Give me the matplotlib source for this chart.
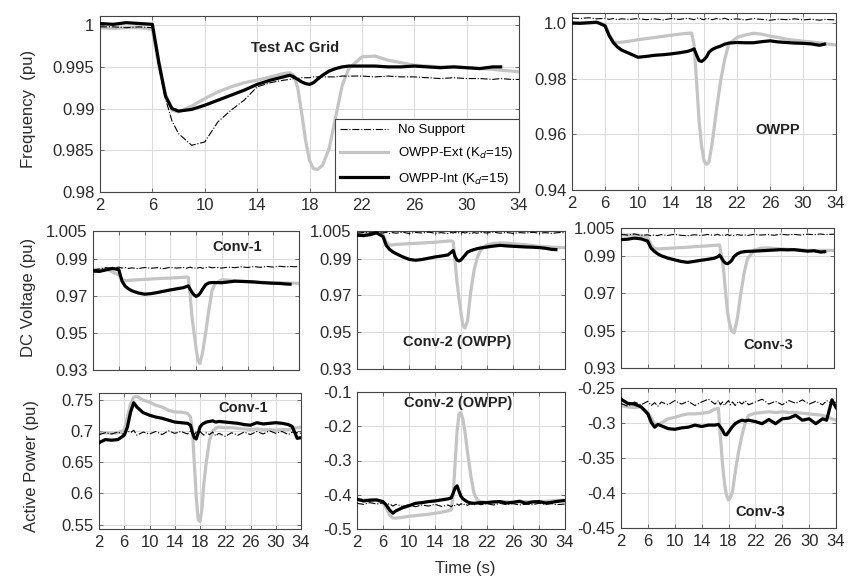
import numpy as np
import matplotlib
matplotlib.use("Agg")
import matplotlib.pyplot as plt

plt.rcParams['font.family'] = ['Liberation Sans', 'DejaVu Sans']

# sample times (s)
t = [2, 3, 4, 5, 6, 6.5, 7, 7.5, 8, 9, 10, 11, 12, 13, 14, 15, 16,
     16.5, 16.8, 17.1, 17.4, 17.7, 18, 18.3, 18.6, 19, 19.5, 20, 20.5, 21,
     22, 23, 24, 25, 26, 27, 28, 29, 30, 31, 32, 32.6, 33.4, 34]
nan = np.nan

# ---- frequency, test AC grid ----
f_grid_nosup = [0.9998, 0.9998, 0.9997, 0.9998, 0.9997, 0.9950, 0.9912, 0.9885, 0.9870, 0.9856, 0.9860, 0.9884, 0.9898, 0.9910, 0.9926, 0.9931, 0.9934,
                0.9935, 0.9936, 0.9936, 0.9937, 0.9937, 0.9937, 0.9938, 0.9938, 0.9938, 0.9938, 0.9938, 0.9939, 0.9939,
                0.9939, 0.9938, 0.9939, 0.9938, 0.9938, 0.9937, 0.9936, 0.9937, 0.9936, 0.9936, 0.9935, 0.9936, 0.9935, 0.9935]
f_grid_ext = [0.9997, 0.9996, 0.9997, 0.9997, 0.9995, 0.9950, 0.9918, 0.9898, 0.9896, 0.9903, 0.9912, 0.9920, 0.9926, 0.9931, 0.9934, 0.9938, 0.9942,
              0.9943, 0.9940, 0.9925, 0.9895, 0.9862, 0.9838, 0.9828, 0.9827, 0.9832, 0.9852, 0.9890, 0.9928, 0.9948,
              0.9962, 0.9963, 0.9958, 0.9955, 0.9952, 0.9951, 0.9950, 0.9950, 0.9949, 0.9948, 0.9947, 0.9946, 0.9945, 0.9944]
f_grid_int = [1.0002, 1.0001, 1.0003, 1.0002, 1.0001, 0.9955, 0.9915, 0.9900, 0.9897, 0.9899, 0.9904, 0.9910, 0.9916, 0.9922, 0.9929, 0.9934, 0.9938,
              0.9940, 0.9938, 0.9935, 0.9932, 0.9930, 0.9929, 0.9931, 0.9935, 0.9940, 0.9945, 0.9948, 0.9950, 0.9951,
              0.9951, 0.9951, 0.9950, 0.9950, 0.9951, 0.9950, 0.9949, 0.9950, 0.9949, 0.9948, 0.9950, 0.9950, nan, nan]

# ---- frequency, OWPP ----
f_owpp_nosup = [1.0018, 1.0016, 1.0019, 1.0015, 1.0017, 1.0013, 1.0016, 1.0012, 1.0015, 1.0013, 1.0016, 1.0012, 1.0015, 1.0011, 1.0016, 1.0013, 1.0017,
                1.0014, 1.0012, 1.0016, 1.0019, 1.0014, 1.0012, 1.0017, 1.0015, 1.0012, 1.0016, 1.0013, 1.0017, 1.0012,
                1.0015, 1.0011, 1.0016, 1.0013, 1.0010, 1.0014, 1.0012, 1.0015, 1.0011, 1.0014, 1.0010, 1.0013, 1.0012, 1.0011]
f_owpp_ext = [1.0000, 0.9999, 1.0000, 1.0001, 0.9995, 0.9960, 0.9933, 0.9930, 0.9931, 0.9935, 0.9940, 0.9944, 0.9948, 0.9952, 0.9956, 0.9960, 0.9963,
              0.9964, 0.9920, 0.9790, 0.9650, 0.9560, 0.9505, 0.9492, 0.9500, 0.9570, 0.9685, 0.9790, 0.9868, 0.9925,
              0.9948, 0.9957, 0.9963, 0.9960, 0.9953, 0.9948, 0.9942, 0.9938, 0.9935, 0.9932, 0.9929, 0.9926, 0.9923, 0.9921]
f_owpp_int = [1.0000, 0.9999, 1.0001, 1.0003, 0.9990, 0.9955, 0.9930, 0.9914, 0.9903, 0.9890, 0.9877, 0.9880, 0.9884, 0.9886, 0.9889, 0.9893, 0.9898,
              0.9903, 0.9907, 0.9885, 0.9865, 0.9862, 0.9868, 0.9878, 0.9895, 0.9905, 0.9912, 0.9917, 0.9924, 0.9928,
              0.9930, 0.9929, 0.9929, 0.9933, 0.9936, 0.9932, 0.9930, 0.9928, 0.9927, 0.9925, 0.9920, 0.9924, nan, nan]

# ---- DC voltage ----
v1_nosup = [0.9840, 0.9845, 0.9852, 0.9849, 0.9855, 0.9850, 0.9853, 0.9848, 0.9851, 0.9847, 0.9853, 0.9849, 0.9852, 0.9847, 0.9854, 0.9850, 0.9853,
            0.9849, 0.9852, 0.9855, 0.9851, 0.9848, 0.9853, 0.9850, 0.9854, 0.9849, 0.9852, 0.9856, 0.9851, 0.9854,
            0.9850, 0.9855, 0.9852, 0.9857, 0.9853, 0.9858, 0.9854, 0.9859, 0.9855, 0.9860, 0.9856, 0.9859, 0.9857, 0.9858]
v1_ext = [0.9843, 0.9842, 0.9846, 0.9830, 0.9812, 0.9790, 0.9782, 0.9783, 0.9785, 0.9787, 0.9789, 0.9791, 0.9793, 0.9795, 0.9796, 0.9798, 0.9800,
          0.9802, 0.9800, 0.9700, 0.9580, 0.9500, 0.9420, 0.9350, 0.9335, 0.9390, 0.9500, 0.9625, 0.9730, 0.9768,
          0.9787, 0.9785, 0.9782, 0.9779, 0.9776, 0.9775, 0.9773, 0.9772, 0.9771, 0.9770, 0.9769, 0.9768, 0.9768, 0.9767]
v1_int = [0.9834, 0.9832, 0.9840, 0.9848, 0.9842, 0.9780, 0.9752, 0.9738, 0.9728, 0.9716, 0.9709, 0.9712, 0.9718, 0.9725, 0.9732, 0.9738, 0.9744,
          0.9750, 0.9754, 0.9735, 0.9718, 0.9705, 0.9697, 0.9702, 0.9712, 0.9735, 0.9760, 0.9770, 0.9772, 0.9772,
          0.9771, 0.9775, 0.9779, 0.9778, 0.9777, 0.9775, 0.9772, 0.9770, 0.9768, 0.9767, 0.9764, 0.9763, nan, nan]

v2_nosup = [1.0038, 1.0042, 1.0040, 1.0044, 1.0039, 1.0043, 1.0036, 1.0041, 1.0038, 1.0043, 1.0037, 1.0042, 1.0039, 1.0044, 1.0038, 1.0041, 1.0036,
            1.0042, 1.0039, 1.0044, 1.0037, 1.0041, 1.0038, 1.0043, 1.0039, 1.0042, 1.0036, 1.0041, 1.0038, 1.0043,
            1.0039, 1.0044, 1.0038, 1.0042, 1.0037, 1.0041, 1.0039, 1.0043, 1.0038, 1.0041, 1.0037, 1.0040, 1.0042, 1.0039]
v2_ext = [1.0036, 1.0035, 1.0038, 1.0040, 1.0030, 0.9990, 0.9973, 0.9975, 0.9977, 0.9979, 0.9981, 0.9983, 0.9985, 0.9987, 0.9989, 0.9992, 0.9995,
          0.9996, 0.9990, 0.9880, 0.9770, 0.9680, 0.9605, 0.9535, 0.9522, 0.9560, 0.9720, 0.9835, 0.9905, 0.9945,
          0.9975, 0.9982, 0.9985, 0.9984, 0.9981, 0.9978, 0.9975, 0.9971, 0.9967, 0.9965, 0.9962, 0.9961, 0.9960, 0.9960]
v2_int = [1.0027, 1.0025, 1.0030, 1.0040, 1.0020, 0.9972, 0.9950, 0.9937, 0.9927, 0.9910, 0.9896, 0.9891, 0.9895, 0.9902, 0.9909, 0.9914, 0.9920,
          0.9935, 0.9944, 0.9910, 0.9892, 0.9887, 0.9893, 0.9905, 0.9918, 0.9935, 0.9943, 0.9949, 0.9954, 0.9958,
          0.9963, 0.9968, 0.9972, 0.9969, 0.9967, 0.9965, 0.9963, 0.9962, 0.9960, 0.9956, 0.9950, 0.9949, nan, nan]

v3_nosup = [1.0016, 1.0012, 1.0018, 1.0010, 1.0014, 1.0008, 1.0013, 1.0009, 1.0015, 1.0010, 1.0016, 1.0011, 1.0008, 1.0014, 1.0010, 1.0015, 1.0011,
            1.0016, 1.0012, 1.0009, 1.0014, 1.0011, 1.0016, 1.0010, 1.0013, 1.0009, 1.0015, 1.0011, 1.0014, 1.0010,
            1.0016, 1.0012, 1.0015, 1.0011, 1.0017, 1.0013, 1.0016, 1.0012, 1.0017, 1.0014, 1.0018, 1.0015, 1.0016, 1.0017]
v3_ext = [1.0014, 1.0012, 1.0015, 1.0010, 1.0000, 0.9960, 0.9940, 0.9938, 0.9939, 0.9941, 0.9943, 0.9945, 0.9947, 0.9950, 0.9952, 0.9954, 0.9957,
          0.9958, 0.9959, 0.9900, 0.9830, 0.9710, 0.9600, 0.9540, 0.9500, 0.9488, 0.9570, 0.9700, 0.9810, 0.9885,
          0.9932, 0.9942, 0.9943, 0.9941, 0.9938, 0.9936, 0.9934, 0.9932, 0.9930, 0.9930, 0.9930, 0.9930, 0.9930, 0.9930]
v3_int = [0.9988, 0.9990, 0.9996, 0.9992, 0.9980, 0.9943, 0.9925, 0.9912, 0.9902, 0.9889, 0.9880, 0.9871, 0.9866, 0.9871, 0.9877, 0.9882, 0.9888,
          0.9895, 0.9905, 0.9890, 0.9872, 0.9862, 0.9859, 0.9865, 0.9875, 0.9898, 0.9912, 0.9920, 0.9923, 0.9925,
          0.9926, 0.9928, 0.9930, 0.9932, 0.9934, 0.9933, 0.9934, 0.9930, 0.9926, 0.9928, 0.9921, 0.9923, nan, nan]

# ---- active power ----
p1_nosup = [0.694, 0.697, 0.695, 0.698, 0.694, 0.700, 0.697, 0.701, 0.693, 0.698, 0.695, 0.699, 0.694, 0.700, 0.696, 0.699, 0.695,
            0.700, 0.697, 0.694, 0.698, 0.695, 0.699, 0.696, 0.693, 0.697, 0.694, 0.698, 0.692, 0.696,
            0.691, 0.697, 0.693, 0.698, 0.694, 0.699, 0.695, 0.700, 0.696, 0.699, 0.694, 0.698, 0.697, 0.696]
p1_ext = [0.696, 0.697, 0.696, 0.697, 0.701, 0.722, 0.743, 0.754, 0.755, 0.749, 0.746, 0.741, 0.738, 0.733, 0.730, 0.730, 0.728,
          0.722, 0.701, 0.648, 0.595, 0.558, 0.555, 0.574, 0.615, 0.650, 0.685, 0.700, 0.704, 0.706,
          0.705, 0.705, 0.704, 0.703, 0.702, 0.703, 0.702, 0.702, 0.701, 0.702, 0.702, 0.704, 0.705, 0.706]
p1_int = [0.681, 0.686, 0.685, 0.686, 0.693, 0.706, 0.730, 0.745, 0.738, 0.729, 0.725, 0.722, 0.720, 0.717, 0.714, 0.713, 0.712,
          0.709, 0.697, 0.689, 0.687, 0.696, 0.706, 0.710, 0.712, 0.714, 0.715, 0.716, 0.714, 0.715,
          0.714, 0.713, 0.712, 0.710, 0.709, 0.713, 0.711, 0.712, 0.713, 0.712, 0.710, 0.707, 0.688, 0.689]

p2_nosup = [-0.425, -0.428, -0.423, -0.427, -0.424, -0.430, -0.426, -0.433, -0.428, -0.434, -0.429, -0.435, -0.430, -0.433, -0.428, -0.434, -0.430,
            -0.435, -0.429, -0.432, -0.427, -0.431, -0.426, -0.430, -0.427, -0.431, -0.426, -0.430, -0.425, -0.429,
            -0.426, -0.430, -0.425, -0.429, -0.426, -0.430, -0.427, -0.429, -0.425, -0.428, -0.426, -0.429, -0.428, -0.427]
p2_ext = [-0.415, -0.416, -0.414, -0.416, -0.425, -0.439, -0.459, -0.468, -0.468, -0.466, -0.463, -0.461, -0.459, -0.457, -0.454, -0.451, -0.447,
          -0.444, -0.400, -0.305, -0.215, -0.163, -0.160, -0.180, -0.215, -0.276, -0.343, -0.396, -0.415, -0.420,
          -0.422, -0.421, -0.420, -0.421, -0.422, -0.421, -0.420, -0.421, -0.420, -0.419, -0.418, -0.417, -0.416, -0.415]
p2_int = [-0.413, -0.418, -0.416, -0.415, -0.420, -0.430, -0.444, -0.454, -0.447, -0.438, -0.432, -0.425, -0.423, -0.420, -0.418, -0.415, -0.412,
          -0.409, -0.395, -0.380, -0.374, -0.390, -0.405, -0.412, -0.416, -0.421, -0.424, -0.425, -0.424, -0.423,
          -0.423, -0.421, -0.420, -0.424, -0.422, -0.419, -0.425, -0.421, -0.420, -0.424, -0.422, -0.420, -0.418, -0.417]

p3_nosup = [-0.272, -0.276, -0.270, -0.274, -0.269, -0.275, -0.271, -0.276, -0.270, -0.274, -0.268, -0.273, -0.269, -0.275, -0.270, -0.266, -0.273,
            -0.268, -0.274, -0.270, -0.275, -0.271, -0.268, -0.274, -0.270, -0.275, -0.269, -0.273, -0.268, -0.274,
            -0.270, -0.266, -0.273, -0.269, -0.274, -0.268, -0.272, -0.267, -0.273, -0.269, -0.274, -0.268, -0.272, -0.270]
p3_ext = [-0.275, -0.277, -0.278, -0.277, -0.285, -0.293, -0.301, -0.302, -0.300, -0.294, -0.292, -0.289, -0.287, -0.287, -0.286, -0.285, -0.280,
          -0.279, -0.320, -0.358, -0.386, -0.403, -0.410, -0.406, -0.398, -0.370, -0.341, -0.318, -0.299, -0.289,
          -0.286, -0.285, -0.284, -0.285, -0.284, -0.285, -0.285, -0.286, -0.287, -0.288, -0.289, -0.291, -0.294, -0.296]
p3_int = [-0.266, -0.272, -0.273, -0.277, -0.287, -0.299, -0.306, -0.302, -0.304, -0.308, -0.309, -0.307, -0.306, -0.303, -0.305, -0.303, -0.303,
          -0.302, -0.306, -0.310, -0.316, -0.317, -0.313, -0.309, -0.305, -0.301, -0.298, -0.296, -0.297, -0.296,
          -0.298, -0.301, -0.295, -0.301, -0.294, -0.293, -0.289, -0.296, -0.294, -0.301, -0.294, -0.296, -0.267, -0.278]

xticks = [2, 6, 10, 14, 18, 22, 26, 30, 34]
W, H = 851, 580
fig = plt.figure(figsize=(W / 100, H / 100), dpi=100)


def box(x0, y0, x1, y1):
    # pixel box -> figure fraction rectangle
    return [x0 / W, 1 - y1 / H, (x1 - x0) / W, (y1 - y0) / H]


def panel(rect, nosup, ext, intl, ylim, yticks, ylabels, xlabels=True):
    ax = fig.add_axes(box(*rect))
    ax.plot(t, ext, color='#c4c4c4', lw=2.3, label='OWPP-Ext (K$_d$=15)', zorder=2)
    ax.plot(t, nosup, color='black', lw=0.8, ls='-.', label='No Support', zorder=3)
    ax.plot(t, intl, color='black', lw=2.3, label='OWPP-Int (K$_d$=15)', zorder=4)
    ax.set_xlim(2, 34)
    ax.set_ylim(*ylim)
    ax.set_xticks(xticks)
    ax.set_yticks(yticks)
    ax.set_yticklabels(ylabels)
    if not xlabels:
        ax.set_xticklabels([])
    ax.grid(True, color='#dcdcdc', lw=0.8)
    ax.set_axisbelow(True)
    ax.tick_params(direction='in', top=True, right=True, length=3, width=0.6,
                   labelsize=12, labelcolor='#2b2b2b', color='#555555', pad=4)
    for s in ax.spines.values():
        s.set_color('#444444')
        s.set_linewidth(0.8)
    return ax


ax1 = panel((100, 16, 519, 192), f_grid_nosup, f_grid_ext, f_grid_int,
            (0.98, 1.0011), [0.98, 0.985, 0.99, 0.995, 1.0],
            ['0.98', '0.985', '0.99', '0.995', '1'])
h, l = ax1.get_legend_handles_labels()
leg = ax1.legend([h[1], h[0], h[2]], [l[1], l[0], l[2]], loc='lower right',
                 fontsize=9.5, handlelength=3.6, borderaxespad=0, fancybox=False,
                 framealpha=1, edgecolor='#444444', labelspacing=0.7)
leg.get_frame().set_linewidth(0.8)

panel((572, 13, 836, 190), f_owpp_nosup, f_owpp_ext, f_owpp_int,
      (0.94, 1.0036), [0.94, 0.96, 0.98, 1.0], ['0.94', '0.96', '0.98', '1.0'])

dc_ticks = [0.93, 0.95, 0.97, 0.99, 1.005]
dc_labels = ['0.93', '0.95', '0.97', '0.99', '1.005']
panel((93, 231, 299, 370), v1_nosup, v1_ext, v1_int, (0.93, 1.005), dc_ticks, dc_labels, False)
panel((357, 231, 565, 369), v2_nosup, v2_ext, v2_int, (0.93, 1.005), dc_ticks, dc_labels, False)
panel((621, 228, 834, 368), v3_nosup, v3_ext, v3_int, (0.93, 1.005), dc_ticks, dc_labels, False)

panel((99, 393, 301, 529), p1_nosup, p1_ext, p1_int, (0.543, 0.7605),
      [0.55, 0.6, 0.65, 0.7, 0.75], ['0.55', '0.6', '0.65', '0.7', '0.75'])
panel((357, 392, 565, 529), p2_nosup, p2_ext, p2_int, (-0.5, -0.1),
      [-0.5, -0.4, -0.3, -0.2, -0.1], ['-0.5', '-0.4', '-0.3', '-0.2', '-0.1'])
panel((621, 388, 836, 528), p3_nosup, p3_ext, p3_int, (-0.45, -0.25),
      [-0.45, -0.4, -0.35, -0.3, -0.25], ['-0.45', '-0.4', '-0.35', '-0.3', '-0.25'])

# panel captions
captions = [('Test AC Grid', 295, 48), ('OWPP', 778, 130),
            ('Conv-1', 237, 247), ('Conv-2 (OWPP)', 457, 342), ('Conv-3', 768, 345),
            ('Conv-1', 243, 408), ('Conv-2 (OWPP)', 458, 403), ('Conv-3', 760, 512)]
for txt, px, py in captions:
    fig.text(px / W, 1 - py / H, txt, ha='center', va='center',
             fontsize=10.5, fontweight='bold', color='#222222')

# axis titles
fig.text(28 / W, 1 - 109 / H, 'Frequency  (pu)', rotation=90, ha='center', va='center',
         fontsize=12, color='#2b2b2b')
fig.text(28 / W, 1 - 297 / H, 'DC Voltage (pu)', rotation=90, ha='center', va='center',
         fontsize=12, color='#2b2b2b')
fig.text(32 / W, 1 - 466 / H, 'Active Power (pu)', rotation=90, ha='center', va='center',
         fontsize=12, color='#2b2b2b')
fig.text(465 / W, 1 - 569 / H, 'Time (s)', ha='center', va='center',
         fontsize=12, color='#2b2b2b')

fig.savefig('out.png', dpi=100, facecolor='white')
